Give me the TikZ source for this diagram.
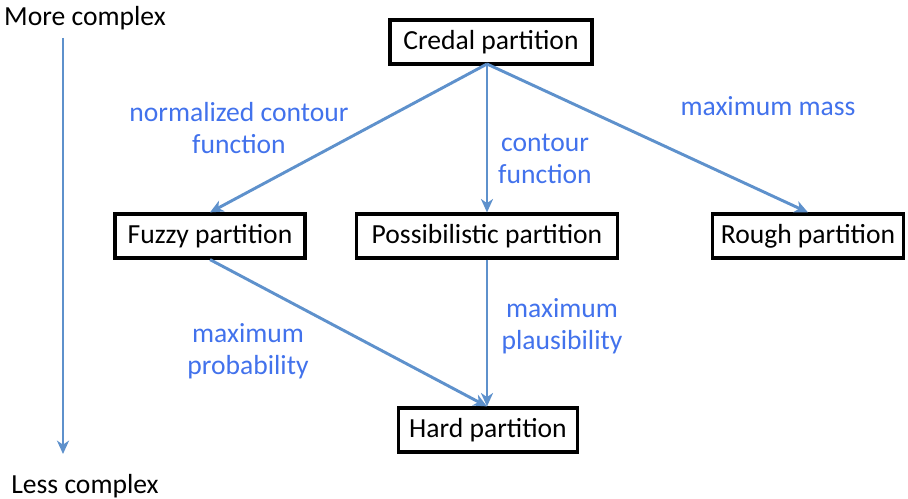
\documentclass[tikz,border=0pt]{standalone}
\usepackage{fontspec}
\setmainfont{Carlito}
\usetikzlibrary{arrows.meta}
\definecolor{arrowblue}{RGB}{94,145,204}
\definecolor{labelblue}{RGB}{66,114,236}
\begin{document}
\begin{tikzpicture}[x=0.75pt,y=-0.75pt,
  part/.style={draw=black,line width=2.4pt,fill=white,minimum height=44*0.75pt,inner xsep=6pt,inner ysep=2pt,font=\fontsize{20.7}{24}\selectfont},
  conn/.style={draw=arrowblue,line width=2.2pt,-{Stealth[length=10pt,width=9pt,inset=3pt]}},
  lbl/.style={text=labelblue,align=center,font=\fontsize{20.7}{24}\selectfont},
  plain/.style={font=\fontsize{20.7}{24}\selectfont}]
\useasboundingbox (0,0) rectangle (908,499);
\node[part,minimum width=202*0.75pt] (credal) at (491,42) {Credal partition};
\node[part,minimum width=190*0.75pt] (fuzzy) at (210,236) {Fuzzy partition};
\node[part,minimum width=261*0.75pt] (poss) at (487,236) {Possibilistic partition};
\node[part,minimum width=191*0.75pt] (rough) at (808,236) {Rough partition};
\node[part,minimum width=179*0.75pt] (hard) at (488,430) {Hard partition};
\node[plain] (more) at (85,18) {More complex};
\node[plain] (less) at (85,486) {Less complex};
\coordinate (vtop) at (63,38);
\coordinate (vbot) at (63,454);
\draw[conn] (vtop) -- (vbot);
\coordinate (cb) at (487,64);
\draw[conn] (cb) -- (fuzzy.north);
\draw[conn] (cb) -- (poss.north);
\draw[conn] (cb) -- (rough.north);
\draw[conn] (fuzzy.south) -- ([xshift=-1*0.75pt]hard.north);
\draw[conn] (poss.south) -- ([xshift=-1*0.75pt]hard.north);
\node[lbl] (l1) at (239,128) {normalized contour\\function};
\node[lbl] (l2) at (545,159) {contour\\function};
\node[lbl] (l3) at (768,106) {maximum mass};
\node[lbl] (l4) at (248,351) {maximum\\probability};
\node[lbl] (l5) at (562,326) {maximum\\plausibility};
\end{tikzpicture}
\end{document}
